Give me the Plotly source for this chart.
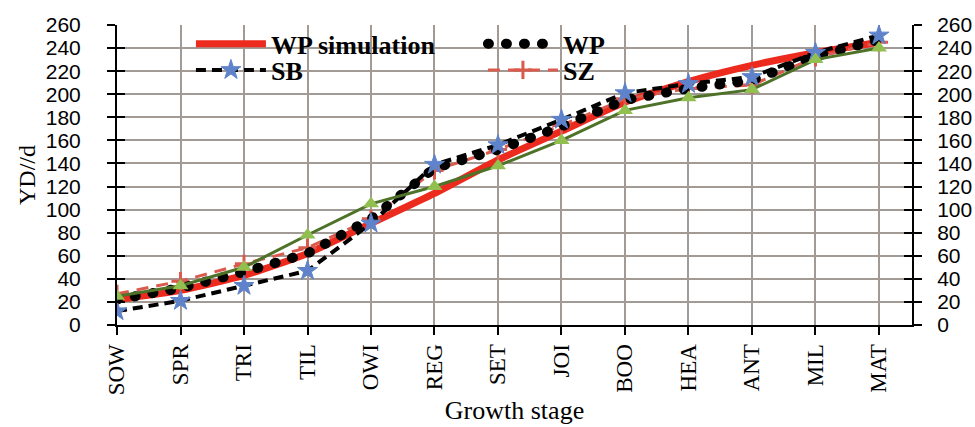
import plotly.graph_objects as go

stages = ["SOW", "SPR", "TRI", "TIL", "OWI", "REG", "SET", "JOI", "BOO", "HEA", "ANT", "MIL", "MAT"]
wp_sim = [22, 30, 43, 62, 88, 114, 143, 168, 193, 211, 225, 236, 245]
wp = [22, 32, 46, 62, 92, 136, 152, 172, 195, 205, 212, 233, 247]
sb = [12, 21, 34, 47, 88, 139, 156, 178, 201, 209, 215, 236, 251]
sz = [27, 38, 53, 67, 92, 134, 152, 173, 196, 205, 208, 232, 245]
other = [25, 34, 50, 78, 105, 120, 138, 160, 186, 197, 204, 230, 240]
y_ticks = list(range(0, 261, 20))

serif = "Liberation Serif"
sans = "Liberation Sans"

fig = go.Figure()
fig.add_trace(go.Scatter(x=stages, y=wp_sim, name="WP simulation", mode="lines",
                         line=dict(color="#EC2A1E", width=7, shape="spline", smoothing=0.6),
                         legend="legend", legendrank=1))
fig.add_trace(go.Scatter(x=stages, y=sz, name="SZ", mode="lines+markers",
                         line=dict(color="#DB5A4E", width=3, dash="12px,8px"),
                         marker=dict(symbol="cross-thin-open", size=13,
                                     line=dict(color="#DB5A4E", width=3)),
                         legend="legend2", legendrank=2))
fig.add_trace(go.Scatter(x=stages, y=wp, name="WP", mode="lines",
                         line=dict(color="rgb(1,1,1)", width=10, dash="1px,17px"),
                         legend="legend", legendrank=2))
fig.add_trace(go.Scatter(x=stages, y=sb, name="SB", mode="lines+markers",
                         line=dict(color="black", width=4, dash="10px,6px"),
                         marker=dict(symbol="star", size=15, color="#5F83CB",
                                     line=dict(color="#5F83CB", width=1)),
                         legend="legend2", legendrank=1))
fig.add_trace(go.Scatter(x=stages, y=other, name="", mode="lines+markers",
                         line=dict(color="#4E7228", width=3),
                         marker=dict(symbol="triangle-up", size=14, color="#92C050"),
                         showlegend=False))

axis_common = dict(range=[0, 260], tickvals=y_ticks, showline=True, linecolor="black",
                   linewidth=2, ticks="outside", ticklen=8, tickwidth=2, tickcolor="black",
                   automargin=False)

legend_common = dict(orientation="h", xanchor="left", yanchor="middle",
                     bgcolor="rgba(0,0,0,0)", entrywidth=207, entrywidthmode="pixels",
                     itemwidth=70, font=dict(family=serif, size=26, color="black", weight="bold"),
                     traceorder="normal")

fig.update_layout(
    width=975, height=427,
    margin=dict(l=117, r=63, t=25, b=102, autoexpand=False),
    paper_bgcolor="white", plot_bgcolor="white",
    showlegend=True,
    legend=dict(**legend_common, x=0.093, y=0.937),
    legend2=dict(**legend_common, x=0.093, y=0.85),
    xaxis=dict(type="category", range=[0, 12.52], showgrid=True, gridcolor="#A29A94",
               gridwidth=1.5, showline=True, linecolor="black", linewidth=2, automargin=False,
               ticks="outside", ticklen=8, tickwidth=2, tickcolor="black", tickangle=-90,
               tickfont=dict(family=serif, size=23, color="black"),
               title=dict(text="Growth stage", font=dict(family=serif, size=26, color="black"),
                          standoff=6)),
    yaxis=dict(**axis_common, showgrid=True, gridcolor="#A29A94", gridwidth=1.5,
               zeroline=False, ticklabelstandoff=22,
               tickfont=dict(family=sans, size=21, color="black"),
               title=dict(text="YD//d", font=dict(family=serif, size=24, color="black"),
                          standoff=3)),
    yaxis2=dict(**axis_common, overlaying="y", side="right", showgrid=False, zeroline=False,
                ticklabelstandoff=11, tickfont=dict(family=sans, size=21, color="black")),
    yaxis3=dict(range=[0, 260], tickvals=y_ticks, overlaying="y", side="left", automargin=False,
                showgrid=False, zeroline=False, showticklabels=False, ticks="inside",
                ticklen=8, tickwidth=2, tickcolor="black"),
    yaxis4=dict(range=[0, 260], tickvals=y_ticks, overlaying="y", side="right", automargin=False,
                showgrid=False, zeroline=False, showticklabels=False, ticks="inside",
                ticklen=8, tickwidth=2, tickcolor="black"),
)
# the helper axes reuse the same data without drawing anything
fig.add_trace(go.Scatter(x=stages, y=other, yaxis="y2", mode="none", showlegend=False, hoverinfo="skip"))
fig.add_trace(go.Scatter(x=stages, y=other, yaxis="y3", mode="none", showlegend=False, hoverinfo="skip"))
fig.add_trace(go.Scatter(x=stages, y=other, yaxis="y4", mode="none", showlegend=False, hoverinfo="skip"))

post = """
document.body.style.margin='0';
function rc(){document.querySelectorAll('path').forEach(function(p){
 if(p.style.stroke==='rgb(1, 1, 1)'){p.style.strokeLinecap='round';}});}
rc(); setTimeout(rc,50); setTimeout(rc,300);
"""
fig.write_html("out.html", post_script=post, config={"displayModeBar": False})
